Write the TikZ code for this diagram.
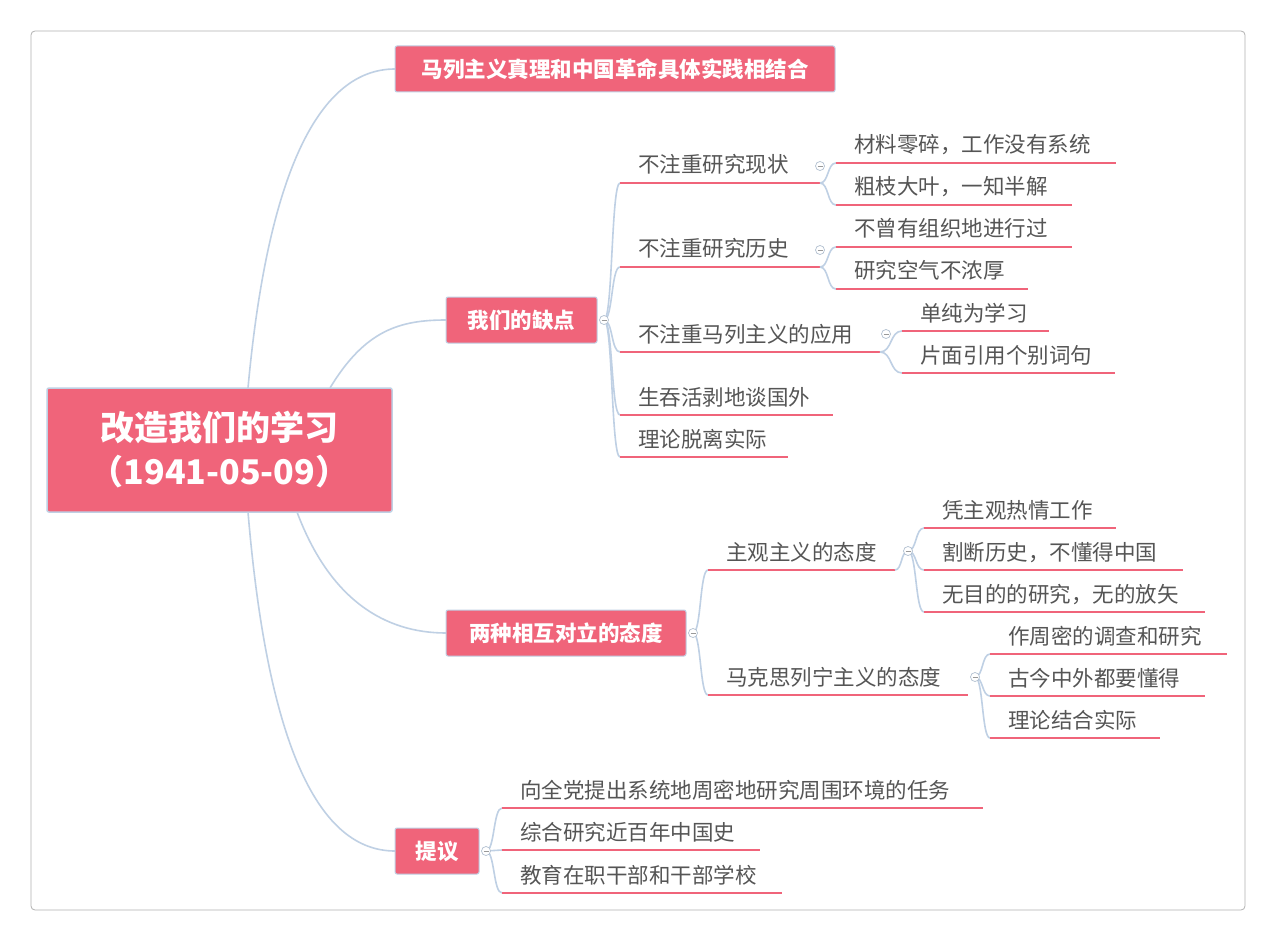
\documentclass[tikz,border=0pt]{standalone}
\usepackage{fontspec}
\setmainfont{Noto Sans CJK SC}
\definecolor{pk}{HTML}{F0647A}
\definecolor{cn}{HTML}{BFD0E4}
\definecolor{tx}{HTML}{555555}
\tikzset{
 ul/.style={draw=pk,line width=2.2pt},
 lt/.style={text=tx,font=\fontsize{21.5}{24}\selectfont,inner sep=0pt},
 cnl/.style={draw=cn,line width=1.6pt},
 bx/.style={fill=pk,draw=cn,line width=1pt,rounded corners=2pt,text=white,font=\fontsize{21.5}{24}\selectfont\bfseries,inner sep=0pt},
 tog/.style={draw=cn!80!gray,fill=white,circle,minimum size=9pt,inner sep=0pt,line width=0.7pt}
}
\newcommand\leaf[5]{\draw[ul] (#2,#4) -- (#3,#4); \node[lt,anchor=base west] (#1) at ({#2+18},{#4-10}) {#5};}
\newcommand\conn[4]{\draw[cnl] (#1,#2) .. controls ({#1+0.55*(#3-#1)},#2) and ({#1+0.45*(#3-#1)},#4) .. (#3,#4);}
\newcommand\tg[3]{\node[tog] (#1) at (#2,#3) {}; \draw[tx!60,line width=0.6pt] ({#2-2.5},#3) -- ({#2+2.5},#3);}
\begin{document}
\begin{tikzpicture}[x=1pt,y=-1pt]
\fill[white] (0,0) rectangle (1276,941);
\useasboundingbox (0,0) rectangle (1276,941);
\draw[gray!60,rounded corners=4pt,line width=0.8pt] (31,31) rectangle (1245,910);
% root connectors
\coordinate (r1) at (248,388); \coordinate (r2) at (330,388);
\coordinate (r3) at (297,512); \coordinate (r4) at (248,512);
\draw[cnl] (r1) .. controls (268,170) and (320,69) .. (395,69);
\draw[cnl] (r2) .. controls (365,330) and (400,320) .. (446,320);
\draw[cnl] (r3) .. controls (330,600) and (385,633) .. (446,633);
\draw[cnl] (r4) .. controls (268,750) and (320,851) .. (395,851);
% root
\node[bx,minimum width=345pt,minimum height=124pt,align=center,font=\fontsize{34}{44}\selectfont\bfseries,line width=1.5pt] (root) at (219.5,450) {改造我们的学习\\（1941-05-09）};
\node[bx,minimum width=440pt,minimum height=46pt] (a) at (615,69) {马列主义真理和中国革命具体实践相结合};
\node[bx,minimum width=151pt,minimum height=46pt] (b) at (521.5,320) {我们的缺点};
\node[bx,minimum width=240pt,minimum height=46pt] (c) at (566,633) {两种相互对立的态度};
\node[bx,minimum width=84pt,minimum height=46pt] (d) at (437,851) {提议};
% B children
\foreach \y in {183,267,352,415,457} {\conn{604}{320}{620}{\y}}
\tg{tb}{604}{320}
\leaf{b1}{620}{820}{183}{不注重研究现状}
\leaf{b2}{620}{820}{267}{不注重研究历史}
\leaf{b3}{620}{880}{352}{不注重马列主义的应用}
\leaf{b4}{620}{833}{415}{生吞活剥地谈国外}
\leaf{b5}{620}{788}{457}{理论脱离实际}
\conn{820}{183}{836}{163}\conn{820}{183}{836}{205}
\conn{820}{267}{836}{247}\conn{820}{267}{836}{289}
\conn{880}{352}{902}{331}\conn{880}{352}{902}{373}
\tg{t1}{820}{166}\tg{t2}{820}{250}\tg{t3}{886}{334}
\leaf{b11}{836}{1116}{163}{材料零碎，工作没有系统}
\leaf{b12}{836}{1072}{205}{粗枝大叶，一知半解}
\leaf{b21}{836}{1072}{247}{不曾有组织地进行过}
\leaf{b22}{836}{1028}{289}{研究空气不浓厚}
\leaf{b31}{902}{1049}{331}{单纯为学习}
\leaf{b32}{902}{1115}{373}{片面引用个别词句}
% C children
\conn{693}{633}{708}{570}\conn{693}{633}{708}{695}
\tg{tc}{693}{633}
\leaf{c1}{708}{895}{570}{主观主义的态度}
\leaf{c2}{708}{968}{695}{马克思列宁主义的态度}
\foreach \y in {528,570,612} {\conn{908}{551}{924}{\y}}
\conn{895}{570}{908}{551}
\tg{tc1}{908}{551}
\leaf{c11}{924}{1116}{528}{凭主观热情工作}
\leaf{c12}{924}{1183}{570}{割断历史，不懂得中国}
\leaf{c13}{924}{1205}{612}{无目的的研究，无的放矢}
\foreach \y in {654,696,738} {\conn{975}{677}{990}{\y}}
\tg{tc2}{975}{677}
\leaf{c21}{990}{1227}{654}{作周密的调查和研究}
\leaf{c22}{990}{1205}{696}{古今中外都要懂得}
\leaf{c23}{990}{1160}{738}{理论结合实际}
% D children
\foreach \y in {808,850,893} {\conn{486}{851}{502}{\y}}
\tg{td}{486}{851}
\leaf{d1}{502}{983}{808}{向全党提出系统地周密地研究周围环境的任务}
\leaf{d2}{502}{760}{850}{综合研究近百年中国史}
\leaf{d3}{502}{782}{893}{教育在职干部和干部学校}
\end{tikzpicture}
\end{document}
